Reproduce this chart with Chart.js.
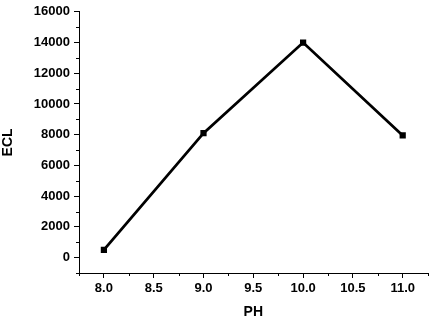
<!DOCTYPE html>
<html><head><meta charset="utf-8">
<script src="https://cdn.jsdelivr.net/npm/chart.js@4"></script>
<style>html,body{margin:0;padding:0;background:#fff}#wrap{width:432px;height:319px}</style>
</head><body><div id="wrap"><canvas id="c" width="432" height="319"></canvas></div>
<script>
const phValues = [8.0, 9.0, 10.0, 11.0];
const eclValues = [500, 8100, 14000, 7950];
const xMajorTicks = [8.0, 8.5, 9.0, 9.5, 10.0, 10.5, 11.0];
const yMajorTicks = [0, 2000, 4000, 6000, 8000, 10000, 12000, 14000, 16000];
const xMinorTicks = [7.75, 8.25, 8.75, 9.25, 9.75, 10.25, 10.75, 11.25];
const yMinorTicks = [-1000, 1000, 3000, 5000, 7000, 9000, 11000, 13000, 15000];

const FONT = {family: '"Liberation Sans", Arial, sans-serif', size: 13, weight: 'bold'};
const TITLE_FONT = {family: '"Liberation Sans", Arial, sans-serif', size: 14, weight: 'bold', lineHeight: 1};

const minorTickPlugin = {
  id: 'minorTicks',
  afterDraw(chart) {
    const ctx = chart.ctx;
    const xs = chart.scales.x, ys = chart.scales.y;
    ctx.save();
    ctx.strokeStyle = '#000';
    ctx.lineWidth = 1;
    ctx.beginPath();
    xMinorTicks.forEach(v => {
      const px = Math.round(xs.getPixelForValue(v)) + 0.5;
      ctx.moveTo(px, ys.bottom);
      ctx.lineTo(px, ys.bottom + 3);
    });
    yMinorTicks.forEach(v => {
      const py = Math.round(ys.getPixelForValue(v)) + 0.5;
      ctx.moveTo(xs.left, py);
      ctx.lineTo(xs.left - 3, py);
    });
    ctx.stroke();
    ctx.restore();
  }
};

new Chart(document.getElementById('c'), {
  type: 'scatter',
  data: {
    datasets: [{
      data: phValues.map((x, i) => ({x, y: eclValues[i]})),
      showLine: true,
      borderColor: '#000',
      backgroundColor: '#000',
      borderWidth: 2.8,
      pointStyle: 'rect',
      pointRadius: 4.4,
      pointBorderWidth: 0,
      tension: 0
    }]
  },
  plugins: [minorTickPlugin],
  options: {
    responsive: false,
    animation: false,
    events: [],
    layout: {padding: {top: 7, right: 0, left: 0, bottom: 0}},
    plugins: {legend: {display: false}, tooltip: {enabled: false}},
    scales: {
      x: {
        type: 'linear', min: 7.75, max: 11.25,
        afterBuildTicks(s) { s.ticks = xMajorTicks.map(v => ({value: v})); },
        afterFit(s) { s.height = 46; },
        grid: {display: true, drawOnChartArea: false, drawTicks: true, tickLength: 5, color: '#000', lineWidth: 1},
        border: {display: true, color: '#000', width: 1},
        ticks: {color: '#000', font: FONT, padding: 3, maxRotation: 0, autoSkip: false,
          callback: v => Number(v).toFixed(1)},
        title: {display: true, text: 'PH', color: '#000', font: TITLE_FONT, padding: {top: 0, bottom: 0}}
      },
      y: {
        type: 'linear', min: -1000, max: 16000,
        afterBuildTicks(s) { s.ticks = yMajorTicks.map(v => ({value: v})); },
        afterFit(s) { s.width = 79; },
        grid: {display: true, drawOnChartArea: false, drawTicks: true, tickLength: 5, color: '#000', lineWidth: 1},
        border: {display: true, color: '#000', width: 1},
        ticks: {color: '#000', font: FONT, padding: 4, autoSkip: false, callback: v => String(v)},
        title: {display: true, text: 'ECL', color: '#000', font: TITLE_FONT, padding: {top: 1, bottom: 0}}
      }
    }
  }
});
</script></body></html>
